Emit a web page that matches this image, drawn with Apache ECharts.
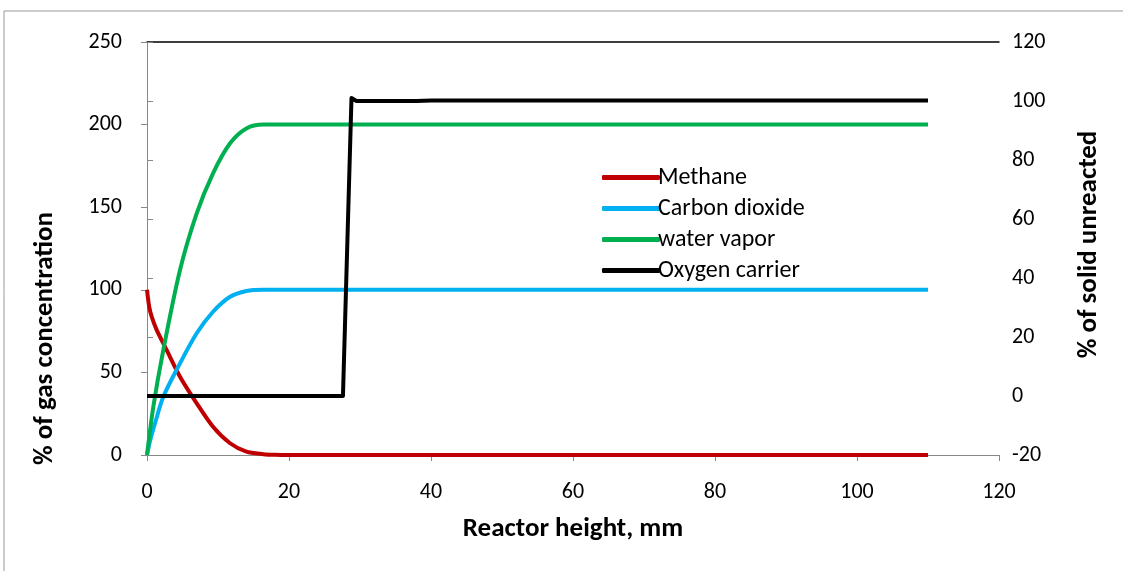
<!DOCTYPE html>
<html><head><meta charset="utf-8">
<script src="https://cdn.jsdelivr.net/npm/echarts@6/dist/echarts.min.js"></script>
<style>html,body{margin:0;padding:0;background:#fff}#c{width:1123px;height:571px}</style>
</head><body><div id="c"></div>
<script>
var xTicks = [0, 20, 40, 60, 80, 100, 120];
var methane = [[0,100],[0.3,90],[0.66,83.7],[1.36,75.7],[2.76,63.6],[4.65,47.4],[7,31.3],[9.3,17.1],[11.7,7.1],[14,2],[16.4,0.5],[18,0.1],[20,0],[110,0]];
var co2 = [[0,0],[0.4,8],[1.13,19.2],[2.3,35.3],[4.65,55.5],[7,73.7],[9.3,86.7],[11.7,95.8],[14,99.3],[16.4,100],[20,100],[110,100]];
var water = [[0,0],[0.89,29.2],[2.3,63.6],[4.65,112],[7,146.3],[9.3,170.5],[11.7,188.7],[14,197.7],[16.4,200],[20,200],[110,200]];
var oxygen = [[0,0],[27.6,0],[27.8,-0.3],[28.8,101],[29.5,100],[38,100],[40,100.2],[110,100.2]];
var FONT = 'Carlito, Lato, sans-serif';
var chart = echarts.init(document.getElementById('c'), null, {renderer:'canvas'});
chart.setOption({
  animation:false,
  backgroundColor:'#fff',
  graphic:[{type:'rect', shape:{x:4, y:11, width:1300, height:800}, style:{fill:'none', stroke:'#999', lineWidth:1}, silent:true}],
  grid:{left:147, right:124, top:42, bottom:116},
  legend:{
    orient:'vertical', left:597, top:158, itemGap:2, itemWidth:58, itemHeight:5,
    icon:'roundRect',
    textStyle:{fontFamily:FONT, fontSize:24, lineHeight:29, color:'#000', padding:[0,0,0,-7]},
    data:['Methane','Carbon dioxide','water vapor','Oxygen carrier']
  },
  xAxis:[{
    type:'value', min:0, max:120, interval:20, position:'bottom',
    name:'Reactor height, mm', nameLocation:'middle', nameGap:61,
    nameTextStyle:{fontFamily:FONT, fontSize:27, fontWeight:'bold', color:'#000'},
    axisLine:{show:true, lineStyle:{color:'#888', width:1}},
    axisTick:{show:true, inside:false, length:6, lineStyle:{color:'#888'}},
    axisLabel:{fontFamily:FONT, fontSize:22, color:'#000', margin:26},
    splitLine:{show:false}
  },{
    type:'value', min:0, max:120, position:'top',
    axisLine:{show:true, onZero:false, lineStyle:{color:'#000', width:1.5}},
    axisTick:{show:false}, axisLabel:{show:false}, splitLine:{show:false}
  }],
  yAxis:[{
    type:'value', min:0, max:250, interval:50, position:'left',
    name:'% of gas concentration', nameLocation:'middle', nameGap:88, nameRotate:90,
    nameTextStyle:{fontFamily:FONT, fontSize:27, fontWeight:'bold', color:'#000', padding:[0,180,0,0]},
    axisLine:{show:true, lineStyle:{color:'#888', width:1}},
    axisTick:{show:true, length:6, lineStyle:{color:'#888'}},
    axisLabel:{fontFamily:FONT, fontSize:22, color:'#000', margin:25},
    splitLine:{show:false}
  },{
    type:'value', min:-20, max:120, interval:20, position:'right',
    name:'% of solid unreacted', nameLocation:'middle', nameGap:77, nameRotate:90,
    nameTextStyle:{fontFamily:FONT, fontSize:27, fontWeight:'bold', color:'#000', padding:[0,0,0,8]},
    axisLine:{show:true, lineStyle:{color:'#888', width:1}},
    axisTick:{show:true, length:6, lineStyle:{color:'#888'}},
    axisLabel:{fontFamily:FONT, fontSize:22, color:'#000', margin:13},
    splitLine:{show:false}
  }],
  series:[
    {name:'Methane', type:'line', data:methane, yAxisIndex:0, showSymbol:false, smooth:0.3, lineStyle:{color:'#C00000', width:4}, itemStyle:{color:'#C00000'}},
    {name:'Carbon dioxide', type:'line', data:co2, yAxisIndex:0, showSymbol:false, smooth:0.3, lineStyle:{color:'#00B0F0', width:4}, itemStyle:{color:'#00B0F0'}},
    {name:'water vapor', type:'line', data:water, yAxisIndex:0, showSymbol:false, smooth:0.3, lineStyle:{color:'#00B050', width:4}, itemStyle:{color:'#00B050'}},
    {name:'Oxygen carrier', type:'line', data:oxygen, yAxisIndex:1, showSymbol:false, lineStyle:{color:'#000', width:4, join:'round'}, itemStyle:{color:'#000'}}
  ]
});
</script></body></html>
